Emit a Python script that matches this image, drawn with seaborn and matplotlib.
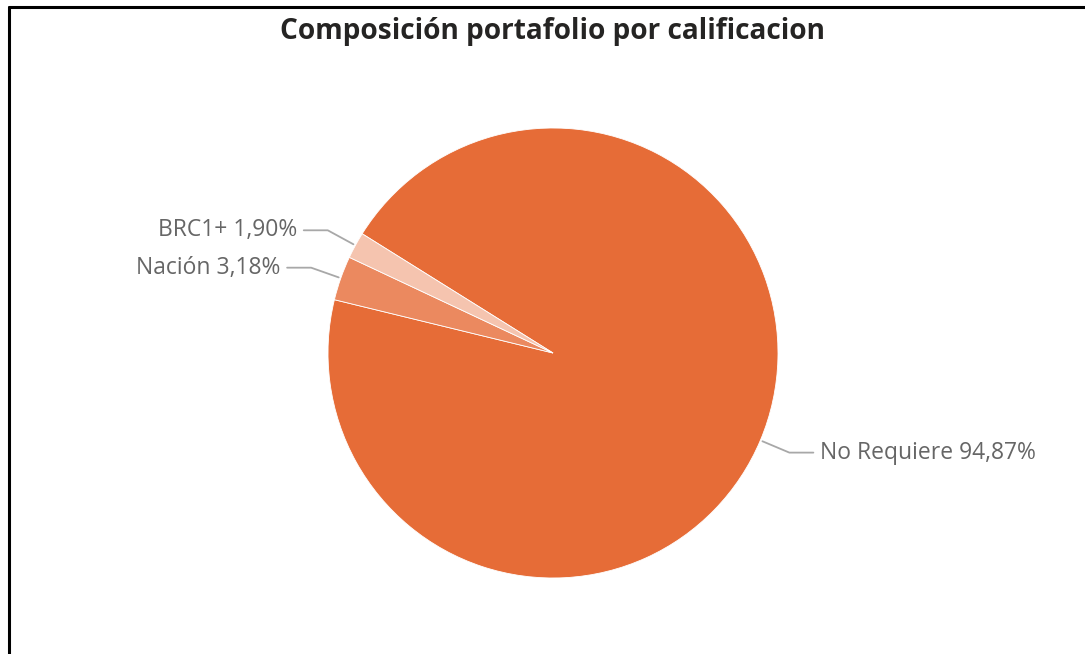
import numpy as np
import matplotlib
matplotlib.use("Agg")
import matplotlib.pyplot as plt
from matplotlib.lines import Line2D
import seaborn as sns

# ---------------------------------------------------------------------------
# DATA
# ---------------------------------------------------------------------------
categories = ["No Requiere", "Nación", "BRC1+"]
shares = [94.87, 3.18, 1.90]
slice_colors = ["#E66C37", "#EB895F", "#F5C4AF"]
title = "Composición portafolio por calificacion"

# ---------------------------------------------------------------------------
# STYLE
# ---------------------------------------------------------------------------
sns.set_theme(style="white")
plt.rcParams["font.family"] = ["Open Sans", "DejaVu Sans"]

W, H = 1085, 654
fig = plt.figure(figsize=(W / 100, H / 100), dpi=100)
fig.patch.set_facecolor("white")

# pie area: centre (553, 353) px, radius 225 px
cx, cy, r = 553, 353, 225
ax = fig.add_axes([(cx - r) / W, (H - cy - r) / H, 2 * r / W, 2 * r / H])

wedges, _ = ax.pie(
    shares, colors=slice_colors, startangle=148, counterclock=False,
    radius=1, wedgeprops=dict(edgecolor="white", linewidth=0.6),
)
# pie() autoscales; pin the limits so radius 1 fills the axes
ax.set_xlim(-1, 1)
ax.set_ylim(-1, 1)
ax.set_aspect("equal")
ax.axis("off")

# labels with leader lines
line_col = "#A8A8A8"
text_col = "#666666"
px = 1 / r  # one pixel in data units
for w, cat, val in zip(wedges, categories, shares):
    ang = np.deg2rad((w.theta1 + w.theta2) / 2)
    x0, y0 = np.cos(ang) * 1.01, np.sin(ang) * 1.01
    x1, y1 = np.cos(ang) * 1.14, np.sin(ang) * 1.14
    side = 1 if x1 > 0 else -1
    x2 = x1 + side * 24 * px
    ax.add_line(Line2D([x0, x1, x2], [y0, y1, y1], color=line_col,
                       lw=1.3, clip_on=False))
    label = f"{cat} {val:.2f}%".replace(".", ",")
    ax.text(x2 + side * 7 * px, y1, label, ha="left" if side > 0 else "right",
            va="center", fontsize=16.5, color=text_col, clip_on=False)

fig.text(cx / W, 1 - 31 / H, title, ha="center", va="center",
         fontsize=20.2, fontweight="bold", color="#252423")

# frame lines on left and top
fig.add_artist(Line2D([8.5 / W, 8.5 / W], [0, 1 - 6.5 / H],
                      transform=fig.transFigure, color="black", lw=2.2))
fig.add_artist(Line2D([8.5 / W, 1], [1 - 6.5 / H, 1 - 6.5 / H],
                      transform=fig.transFigure, color="black", lw=2.2))

fig.savefig("out.png", dpi=100, facecolor="white")
